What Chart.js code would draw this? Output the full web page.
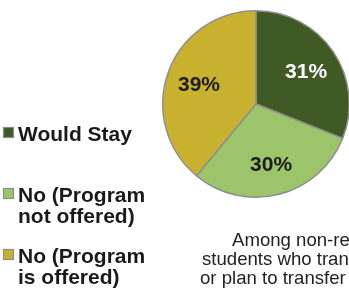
<!DOCTYPE html>
<html>
<head>
<meta charset="utf-8">
<script src="https://cdn.jsdelivr.net/npm/chart.js@4"></script>
<style>
  html, body { margin: 0; padding: 0; background: #fff; overflow: hidden; }
  #wrap { position: relative; width: 380px; height: 290px; }
</style>
</head>
<body>
<div id="wrap"><canvas id="pie" width="380" height="290"></canvas></div>
<script>
// data
const labels = ['Would Stay', 'No (Program not offered)', 'No (Program is offered)'];
const legendLines = [['Would Stay'], ['No (Program', 'not offered)'], ['No (Program', 'is offered)']];
const values = [31, 30, 39];
const colors = ['#3f5a24', '#9bc46b', '#c8b12f'];
const labelColors = ['#ffffff', '#1c1c1c', '#1c1c1c'];
const captionLines = ['Among non-resident', 'students who transferred', 'or plan to transfer out'];

// legend + slice labels + caption drawn on the canvas
const extras = {
    id: 'extras',
    afterDatasetsDraw(chart) {
        const ctx = chart.ctx;
        ctx.save();

        // percent labels
        const arcs = chart.getDatasetMeta(0).data;
        ctx.font = 'bold 21px "Liberation Sans", Arial, sans-serif';
        ctx.textAlign = 'center';
        ctx.textBaseline = 'middle';
        arcs.forEach((arc, i) => {
            const mid = (arc.startAngle + arc.endAngle) / 2;
            const r = arc.outerRadius * 0.65;
            ctx.fillStyle = labelColors[i];
            ctx.fillText(values[i] + '%', arc.x + Math.cos(mid) * r, arc.y + Math.sin(mid) * r + 2);
        });

        // legend
        const legendTop = [141, 202, 263];
        ctx.textAlign = 'left';
        ctx.textBaseline = 'alphabetic';
        legendLines.forEach((lines, i) => {
            const y = legendTop[i];
            ctx.fillStyle = colors[i];
            ctx.fillRect(3.5, y - 13.5, 10, 10);
            ctx.strokeStyle = '#8c8c8c';
            ctx.lineWidth = 1.2;
            ctx.strokeRect(3.5, y - 13.5, 10, 10);
            ctx.fillStyle = '#1a1a1a';
            lines.forEach((t, j) => ctx.fillText(t, 18, y + j * 21));
        });

        // caption
        ctx.font = '18.6px "Liberation Sans", Arial, sans-serif';
        ctx.fillStyle = '#222';
        const capX = [232, 202, 200];
        captionLines.forEach((t, j) => ctx.fillText(t, capX[j], 246 + j * 19));

        ctx.restore();
    }
};

new Chart(document.getElementById('pie'), {
    type: 'pie',
    data: {
        labels: labels,
        datasets: [{
            data: values,
            backgroundColor: colors,
            borderColor: '#8f8f8f',
            borderWidth: 1.5
        }]
    },
    options: {
        responsive: false,
        animation: false,
        layout: { padding: { left: 162, right: 30, top: 10, bottom: 92 } },
        plugins: { legend: { display: false }, tooltip: { enabled: false } }
    },
    plugins: [extras]
});
</script>
</body>
</html>
